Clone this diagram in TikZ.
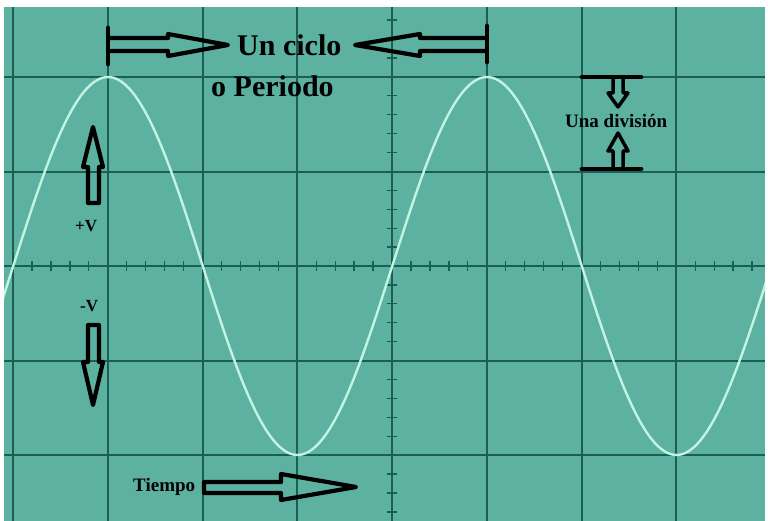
\documentclass[tikz,border=0pt]{standalone}
\usepackage{fontspec}
\setmainfont{Liberation Serif}
\definecolor{scope}{HTML}{5DB1A0}
\definecolor{gridc}{HTML}{1B5F52}
\definecolor{wave}{HTML}{C2F4E2}
\tikzset{
  gridline/.style={draw=gridc, line width=2pt},
  tickline/.style={draw=gridc, line width=1.3pt},
  blockarrow/.style={draw=black, line width=4.2pt, line join=round, line cap=round},
  endbar/.style={draw=black, line width=4.8pt, line cap=round},
  bigtxt/.style={font=\bfseries\fontsize{30}{32}\selectfont, inner sep=0pt, text=black},
  smalltxt/.style={font=\bfseries\fontsize{19}{21}\selectfont, inner sep=0pt, text=black},
}
\begin{document}
\begin{tikzpicture}[x=1pt,y=-1pt]
\useasboundingbox (0,0) rectangle (768,521);
\fill[white] (0,0) rectangle (768,521);
\fill[scope] (4,7) rectangle (765,521);
\begin{scope}
\clip (4,7) rectangle (765,521);
% grid
\foreach \k in {0,...,7} \draw[gridline] ({13+94.75*\k},7) -- ({13+94.75*\k},521);
\foreach \k in {0,...,4} \draw[gridline] (4,{77+94.6*\k}) -- (765,{77+94.6*\k});
% ticks on central axes
\foreach \k in {0,...,39} \draw[tickline] ({13+18.95*\k},261) -- ({13+18.95*\k},271);
\foreach \k in {-14,...,13} \draw[tickline] (387,{266+18.92*\k}) -- (397,{266+18.92*\k});
% sine wave
\draw[wave, line width=2.4pt] plot[domain=0:770, samples=240, smooth] (\x, {266 - 189*cos(((\x-108)/379)*360)});
\end{scope}
% top cycle arrows
\draw[endbar] (108,28) -- (108,64);
\draw[blockarrow] (110,38) -- (168,38) -- (168,34) -- (228,45) -- (168,56) -- (168,51) -- (110,51);
\draw[endbar] (487,26) -- (487,62);
\draw[blockarrow] (485,38) -- (420,38) -- (420,34) -- (355,45) -- (420,56) -- (420,51) -- (485,51);
\node[bigtxt, anchor=base west] (ciclo) at (237,56) {Un ciclo};
\node[bigtxt, anchor=base west] (periodo) at (211,97) {o Periodo};
% una division
\draw[endbar] (582,77) -- (641,77);
\draw[endbar] (582,169) -- (641,169);
\draw[blockarrow, line width=3.5pt] (613,79) -- (613,93) -- (608,93) -- (618,107) -- (628,93) -- (623,93) -- (623,79);
\draw[blockarrow, line width=3.5pt] (613,167) -- (613,151) -- (608,151) -- (618,133) -- (628,151) -- (623,151) -- (623,167);
\node[smalltxt, anchor=base west] (div) at (565,128) {Una división};
% +V / -V
\draw[blockarrow] (88,203) -- (88,167) -- (83,167) -- (93,127) -- (103,167) -- (99,167) -- (99,203) -- cycle;
\node[smalltxt, anchor=base west, font=\bfseries\fontsize{17}{19}\selectfont] (pv) at (75,232) {+V};
\draw[blockarrow] (88,325) -- (88,362) -- (83,362) -- (93,405) -- (103,362) -- (99,362) -- (99,325) -- cycle;
\node[smalltxt, anchor=base west, font=\bfseries\fontsize{17}{19}\selectfont] (mv) at (80,311) {-V};
% tiempo
\node[smalltxt, anchor=base west] (tiempo) at (133,491) {Tiempo};
\draw[blockarrow] (204,482) -- (281,482) -- (281,474) -- (356,487) -- (281,500) -- (281,493) -- (204,493) -- cycle;
\end{tikzpicture}
\end{document}
